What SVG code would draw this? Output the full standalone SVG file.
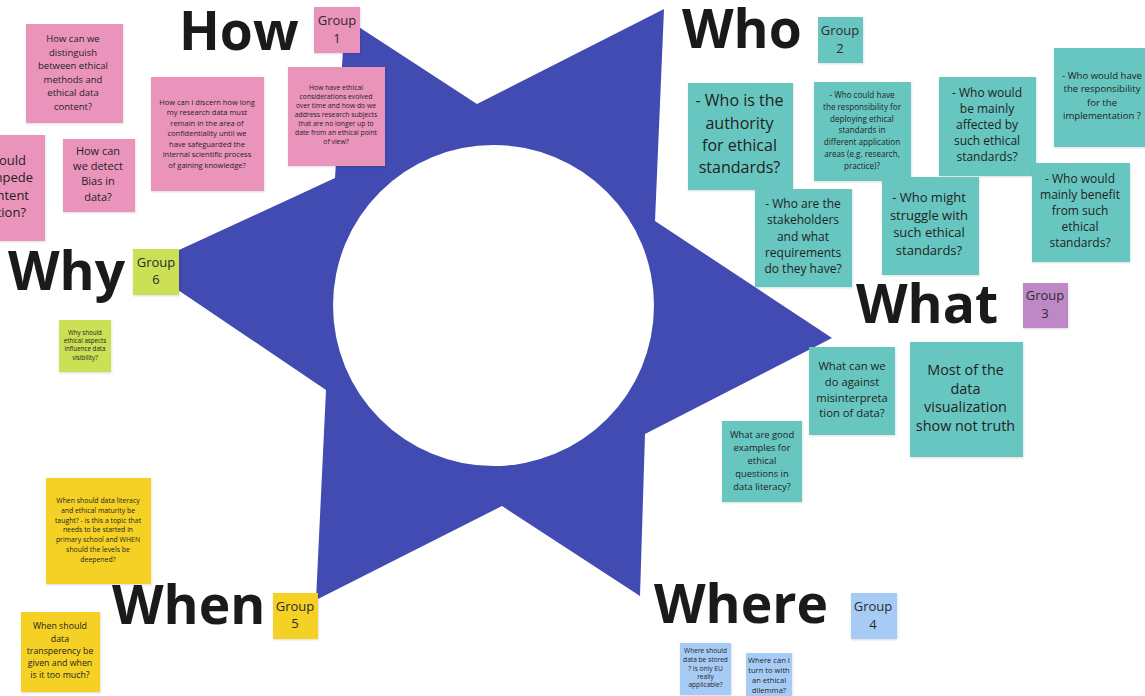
<svg xmlns="http://www.w3.org/2000/svg" width="1145" height="696" viewBox="0 0 1145 696">
<style>
text{font-family:"Open Sans","Noto Sans","Liberation Sans",sans-serif;fill:#1f1f1f;text-anchor:middle}
.h{font-weight:700;font-size:53.4px;text-anchor:start;fill:#1a1a1a}
.g{font-size:13px;fill:#2b2b2b}
.n{filter:url(#sh)}
.pink{fill:#ea94bb}.teal{fill:#67c6c0}.yellow{fill:#f5d128}.blue{fill:#a6ccf5}.purple{fill:#be88c7}.lime{fill:#cbe054}
</style>
<defs><filter id="sh" x="-10%" y="-10%" width="120%" height="120%"><feDropShadow dx="0.5" dy="1" stdDeviation="0.8" flood-color="#000" flood-opacity="0.14"/></filter></defs>
<g id="star"><polygon points="345,18 477,104 664,9 655,221 832,338 645,434 640,596 502,506 316,600 326,390 178,290 140,268 335,178" fill="#414bb2"/><circle cx="493.5" cy="305.5" r="160.5" fill="#fff"/></g>
<g id="connectors"/>
<g id="head-how"><text class="h" x="179" y="49.5">How</text></g>
<g id="head-who"><text class="h" x="682" y="48">Who</text></g>
<g id="head-why"><text class="h" x="8" y="290">Why</text></g>
<g id="head-what"><text class="h" x="856" y="323">What</text></g>
<g id="head-when"><text class="h" x="112" y="624">When</text></g>
<g id="head-where"><text class="h" x="654" y="623">Where</text></g>

<g id="group1"><rect class="n pink" x="314" y="7" width="46" height="46"/><text class="g"><tspan x="337" y="25">Group</tspan><tspan x="337" y="43">1</tspan></text></g>
<g id="group2"><rect class="n teal" x="818" y="17" width="45" height="46"/><text class="g"><tspan x="840" y="35">Group</tspan><tspan x="840" y="53">2</tspan></text></g>
<g id="group3"><rect class="n purple" x="1023" y="283" width="45" height="45"/><text class="g"><tspan x="1045" y="300">Group</tspan><tspan x="1045" y="318">3</tspan></text></g>
<g id="group4"><rect class="n blue" x="851" y="593" width="46" height="46"/><text class="g"><tspan x="873" y="611">Group</tspan><tspan x="873" y="629">4</tspan></text></g>
<g id="group5"><rect class="n yellow" x="273" y="593" width="45" height="46"/><text class="g"><tspan x="295" y="611">Group</tspan><tspan x="295" y="628">5</tspan></text></g>
<g id="group6"><rect class="n lime" x="133" y="249" width="46" height="46"/><text class="g"><tspan x="156" y="267">Group</tspan><tspan x="156" y="284">6</tspan></text></g>

<g id="note-distinguish"><rect class="n pink" x="26" y="24" width="97" height="99"/><text font-size="9.5"><tspan x="73" y="42">How can we</tspan><tspan x="73" y="55.5">distinguish</tspan><tspan x="73" y="69">between ethical</tspan><tspan x="73" y="82.5">methods and</tspan><tspan x="73" y="96">ethical data</tspan><tspan x="73" y="109.5">content?</tspan></text></g>
<g id="note-discern"><rect class="n pink" x="151" y="77" width="113" height="114"/><text font-size="7.5"><tspan x="207" y="104.5">How can I discern how long</tspan><tspan x="207" y="115">my research data must</tspan><tspan x="207" y="125.5">remain in the area of</tspan><tspan x="207" y="136">confidentiality until we</tspan><tspan x="207" y="146.5">have safeguarded the</tspan><tspan x="207" y="157">internal scientific process</tspan><tspan x="207" y="167.5">of gaining knowledge?</tspan></text></g>
<g id="note-considerations"><rect class="n pink" x="288" y="67" width="97" height="99"/><text font-size="6.8"><tspan x="336" y="90">How have ethical</tspan><tspan x="336" y="99">considerations evolved</tspan><tspan x="336" y="108">over time and how do we</tspan><tspan x="336" y="117">address research subjects</tspan><tspan x="336" y="126">that are no longer up to</tspan><tspan x="336" y="135">date from an ethical point</tspan><tspan x="336" y="144">of view?</tspan></text></g>
<g id="note-impede"><rect class="n pink" x="-60" y="135" width="105" height="106"/><text font-size="13" style="text-anchor:end"><tspan x="26" y="165">ould</tspan><tspan x="33" y="182">mpede</tspan><tspan x="29" y="200">ntent</tspan><tspan x="26" y="217">tion?</tspan></text></g>
<g id="note-bias"><rect class="n pink" x="63" y="139" width="72" height="73"/><text font-size="11"><tspan x="98" y="155">How can</tspan><tspan x="98" y="170">we detect</tspan><tspan x="98" y="185">Bias in</tspan><tspan x="98" y="201">data?</tspan></text></g>

<g id="note-authority"><rect class="n teal" x="688" y="83" width="105" height="107"/><text font-size="16"><tspan x="739.5" y="106">- Who is the</tspan><tspan x="739.5" y="129">authority</tspan><tspan x="739.5" y="151">for ethical</tspan><tspan x="739.5" y="173">standards?</tspan></text></g>
<g id="note-deploying"><rect class="n teal" x="814" y="82" width="97" height="99"/><text font-size="8.1"><tspan x="862" y="98">- Who could have</tspan><tspan x="862" y="110">the responsibility for</tspan><tspan x="862" y="122">deploying ethical</tspan><tspan x="862" y="133">standards in</tspan><tspan x="862" y="145">different application</tspan><tspan x="862" y="157">areas (e.g. research,</tspan><tspan x="862" y="169">practice)?</tspan></text></g>
<g id="note-affected"><rect class="n teal" x="939" y="77" width="97" height="99"/><text font-size="12"><tspan x="987" y="97">- Who would</tspan><tspan x="987" y="113">be mainly</tspan><tspan x="987" y="129">affected by</tspan><tspan x="987" y="145">such ethical</tspan><tspan x="987" y="161">standards?</tspan></text></g>
<g id="note-implementation"><rect class="n teal" x="1054" y="48" width="97" height="99"/><text font-size="9.6"><tspan x="1102" y="79">- Who would have</tspan><tspan x="1102" y="92">the responsibility</tspan><tspan x="1102" y="106">for the</tspan><tspan x="1102" y="119">implementation ?</tspan></text></g>
<g id="note-benefit"><rect class="n teal" x="1032" y="163" width="98" height="99"/><text font-size="12"><tspan x="1080" y="183">- Who would</tspan><tspan x="1080" y="199">mainly benefit</tspan><tspan x="1080" y="215">from such</tspan><tspan x="1080" y="231">ethical</tspan><tspan x="1080" y="247">standards?</tspan></text></g>
<g id="note-struggle"><rect class="n teal" x="882" y="177" width="97" height="98"/><text font-size="13"><tspan x="929" y="202">- Who might</tspan><tspan x="929" y="220">struggle with</tspan><tspan x="929" y="237">such ethical</tspan><tspan x="929" y="255">standards?</tspan></text></g>
<g id="note-stakeholders"><rect class="n teal" x="755" y="189" width="97" height="98"/><text font-size="12"><tspan x="803" y="208">- Who are the</tspan><tspan x="803" y="224">stakeholders</tspan><tspan x="803" y="241">and what</tspan><tspan x="803" y="257">requirements</tspan><tspan x="803" y="273">do they have?</tspan></text></g>

<g id="note-misinterpretation"><rect class="n teal" x="809" y="347" width="86" height="88"/><text font-size="11.3"><tspan x="852" y="370">What can we</tspan><tspan x="852" y="386">do against</tspan><tspan x="852" y="402">misinterpreta</tspan><tspan x="852" y="417">tion of data?</tspan></text></g>
<g id="note-truth"><rect class="n teal" x="910" y="342" width="113" height="115"/><text font-size="14.4"><tspan x="965.5" y="375">Most of the</tspan><tspan x="965.5" y="394">data</tspan><tspan x="965.5" y="412">visualization</tspan><tspan x="965.5" y="431">show not truth</tspan></text></g>
<g id="note-examples"><rect class="n teal" x="722" y="421" width="80" height="81"/><text font-size="9.4"><tspan x="762" y="438">What are good</tspan><tspan x="762" y="451">examples for</tspan><tspan x="762" y="464">ethical</tspan><tspan x="762" y="477">questions in</tspan><tspan x="762" y="490">data literacy?</tspan></text></g>

<g id="note-taught"><rect class="n yellow" x="46" y="478" width="105" height="106"/><text font-size="6.9"><tspan x="98" y="503">When should data literacy</tspan><tspan x="98" y="513">and ethical maturity  be</tspan><tspan x="98" y="522.5">taught? - is this a topic that</tspan><tspan x="98" y="532">needs to be started in</tspan><tspan x="98" y="542">primary school and WHEN</tspan><tspan x="98" y="552">should the levels be</tspan><tspan x="98" y="561.5">deepened?</tspan></text></g>
<g id="note-transparency"><rect class="n yellow" x="21" y="612" width="79" height="80"/><text font-size="8.8"><tspan x="60" y="629">When should</tspan><tspan x="60" y="642">data</tspan><tspan x="60" y="654">transperency be</tspan><tspan x="60" y="666">given and when</tspan><tspan x="60" y="678">is it too much?</tspan></text></g>

<g id="note-stored"><rect class="n blue" x="680" y="643" width="51" height="52"/><text font-size="6.6"><tspan x="705.5" y="653">Where should</tspan><tspan x="705.5" y="662">data be stored</tspan><tspan x="705.5" y="670.5">? Is only EU</tspan><tspan x="705.5" y="679">really</tspan><tspan x="705.5" y="687">applicable?</tspan></text></g>
<g id="note-dilemma"><rect class="n blue" x="746" y="653" width="46" height="47"/><text font-size="7.6"><tspan x="769" y="663">Where can I</tspan><tspan x="769" y="673">turn to with</tspan><tspan x="769" y="683">an ethical</tspan><tspan x="769" y="693">dilemma?</tspan></text></g>

<g id="note-visibility"><rect class="n lime" x="59" y="320" width="52" height="52"/><text font-size="6.2"><tspan x="85" y="335">Why should</tspan><tspan x="85" y="343">ethical aspects</tspan><tspan x="85" y="351">influence data</tspan><tspan x="85" y="360">visibility?</tspan></text></g>
</svg>
